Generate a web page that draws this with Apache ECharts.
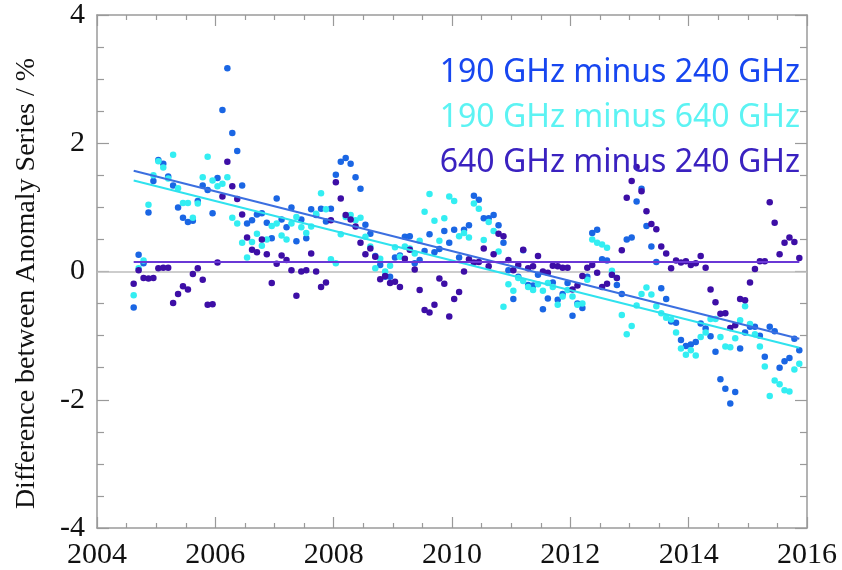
<!DOCTYPE html>
<html lang="en">

<head>
    <meta charset="UTF-8">
    <title>Difference between Anomaly Series</title>
    <script src="https://cdn.jsdelivr.net/npm/echarts@6/dist/echarts.min.js"></script>
    <style>
        html, body { margin: 0; padding: 0; background: #fff; }
    </style>
</head>

<body>
    <div id="chart1" style="width: 842px;height: 570px;"></div>
    <script type="text/javascript">
        // monthly samples, first one is about Aug 2004
        var startYear = 2004.62;

        var names = ['190 GHz minus 240 GHz', '190 GHz minus 640 GHz', '640 GHz minus 240 GHz'];

        var blueVals = [
            -0.56, 0.26, 0.13, 0.92, 1.41, 1.74, 1.68, 1.48, 1.34, 1.0, 0.84, 0.77, 0.79, 1.1, 1.34, 1.27,
            0.91, 1.46, 2.52, 3.17, 2.16, 1.88, 1.34, 0.75, 0.8, 0.89, 0.91, 0.76, 0.52, 1.14, 0.81, 0.69,
            1.0, 0.47, 0.81, 0.52, 0.97, 0.88, 0.98, 0.78, 0.98, 1.51, 1.71, 1.77, 1.68, 1.47, 1.29, 0.73,
            0.59, 0.24, 0.1, -0.08, -0.08, 0.22, 0.25, 0.54, 0.55, 0.13, 0.18, 0.32, 0.58, 0.3, 0.35, 0.63,
            0.45, 0.65, 0.22, 0.65, 0.72, 1.18, 1.12, 0.83, 0.83, 0.88, 0.72, 0.45, 0.02, -0.43, -0.08, 0.33,
            -0.21, -0.22, -0.05, -0.59, -0.42, -0.17, -0.44, -0.35, -0.18, -0.69, -0.5, -0.57, -0.08, 0.6, 0.65, 0.19,
            0.17, -0.05, -0.21, -0.35, 0.5, 0.53, 1.09, 1.29, 0.71, 0.39, 0.15, -0.26, -0.43, -0.78, -0.8, -1.07,
            -1.16, -1.14, -1.1, -0.81, -0.89, -1.01, -1.25, -1.68, -1.83, -2.06, -1.88, -1.2, -0.95, -0.86, -0.86, -1.0,
            -1.33, -0.86, -0.93, -1.5, -1.4, -1.35, -1.05, -1.23
        ];

        var cyanVals = [
            -0.37, 0.05, 0.17, 1.04, 1.5, 1.72, 1.62, 1.45, 1.82, 1.3, 1.07, 1.07, 0.84, 1.06, 1.47, 1.79,
            1.42, 1.33, 1.37, 1.47, 0.84, 0.75, 0.45, 0.22, 0.46, 0.59, 0.4, 0.5, 0.71, 0.75, 0.56, 0.5,
            0.75, 0.85, 0.69, 0.6, 0.7, 0.9, 1.22, 0.97, 0.19, 0.13, 0.58, 0.85, 0.88, 0.8, 0.84, 0.54,
            0.39, 0.05, 0.2, 0.0, 0.09, 0.38, 0.23, 0.39, 0.36, 0.28, 0.48, 0.93, 1.21, 0.79, 0.48, 0.83,
            1.17, 1.1, 0.55, 0.6, 0.53, 1.06, 0.98, 0.49, 0.77, 0.63, 0.31, -0.55, -0.2, -0.3, -0.1, -0.15,
            -0.24, -0.29, -0.2, -0.3, -0.18, -0.24, -0.52, -0.39, -0.29, -0.39, -0.52, -0.5, -0.13, 0.5, 0.45, 0.42,
            0.37, 0.01, -0.1, -0.68, -0.98, -0.85, -0.53, -0.35, -0.25, -0.36, -0.54, -0.65, -0.72, -0.75, -0.95, -1.2,
            -1.3, -1.23, -1.31, -1.02, -0.95, -0.74, -0.74, -1.02, -1.17, -1.18, -1.04, -0.76, -0.54, -0.82, -0.98, -1.17,
            -1.48, -1.94, -1.7, -1.76, -1.85, -1.87, -1.53, -1.44
        ];

        var purpleVals = [
            -0.19, 0.02, -0.1, -0.11, -0.1, 0.05, 0.06, 0.06, -0.49, -0.35, -0.23, -0.28, -0.04, 0.05, -0.13, -0.52,
            -0.51, 0.14, 1.17, 1.71, 1.33, 1.13, 0.89, 0.53, 0.34, 0.3, 0.5, 0.27, -0.18, 0.12, 0.25, 0.18,
            0.02, -0.38, 0.0, 0.02, 0.28, 0.0, -0.24, -0.17, 0.8, 1.39, 1.14, 0.88, 0.81, 0.7, 0.45, 0.27,
            0.36, 0.23, -0.12, -0.07, -0.18, -0.16, -0.24, 0.2, 0.34, 0.03, -0.29, -0.6, -0.64, -0.52, -0.11, -0.19,
            -0.7, -0.43, -0.32, 0.0, 0.19, 0.14, 0.15, 0.36, 0.08, 0.27, 0.59, 0.55, 0.18, 0.02, 0.1, 0.34,
            0.05, 0.08, 0.24, 0.0, -0.02, 0.09, 0.08, 0.06, 0.06, -0.28, -0.22, -0.07, 0.06, 0.1, -0.02, -0.24,
            -0.19, -0.05, -0.1, 0.33, 1.15, 1.41, 1.63, 1.25, 0.94, 0.74, 0.66, 0.39, 0.28, 0.05, 0.17, 0.14,
            0.16, 0.1, 0.13, 0.24, 0.06, -0.28, -0.48, -0.66, -0.65, -0.88, -0.84, -0.43, -0.45, -0.17, 0.04, 0.16,
            0.16, 1.08, 0.76, 0.27, 0.45, 0.53, 0.46, 0.21
        ];

        // fitted trend lines, [start, end] as [year, value]
        var blueTrend = [[2004.62, 1.57], [2015.87, -1.05]];
        var cyanTrend = [[2004.62, 1.42], [2015.87, -1.19]];
        var purpleTrend = [[2004.62, 0.15], [2015.87, 0.15]];

        var dotColors = ['#1a66e4', '#33eef2', '#3d0ea6'];
        var lineColors = ['#3b6fe0', '#2fe2ee', '#6a38d6'];
        var textColors = ['#1746f0', '#5cf3f3', '#3a22c0'];

        function toPoints(vals) {
            return vals.map(function (v, i) {
                return [startYear + i / 12, v];
            });
        }

        var chart1 = echarts.init(document.getElementById("chart1"));

        var serif = 'Liberation Serif';
        var axisGray = '#9a9a9a';

        function xAx(pos, showLabel) {
            return {
                type: 'value', position: pos, min: 2004, max: 2016, interval: 2,
                axisLine: { show: true, onZero: false, lineStyle: { color: axisGray, width: 1.5 } },
                axisTick: { show: true, inside: true, length: 11, lineStyle: { color: axisGray, width: 1.2 } },
                minorTick: { show: true, splitNumber: 4, length: 5, lineStyle: { color: axisGray, width: 1.2 } },
                splitLine: { show: false },
                axisLabel: {
                    show: showLabel, margin: 12, color: '#111', fontFamily: serif, fontSize: 30,
                    formatter: function (v) { return String(v); }
                }
            };
        }

        function yAx(pos, showLabel) {
            return {
                type: 'value', position: pos, min: -4, max: 4, interval: 2,
                axisLine: { show: true, onZero: false, lineStyle: { color: axisGray, width: 1.5 } },
                axisTick: { show: true, inside: true, length: 12, lineStyle: { color: axisGray, width: 1.2 } },
                minorTick: { show: true, splitNumber: 4, length: 7, lineStyle: { color: axisGray, width: 1.2 } },
                splitLine: { show: false },
                axisLabel: { show: showLabel, margin: 12, color: '#111', fontFamily: serif, fontSize: 30 }
            };
        }

        var yLeft = yAx('left', true);
        yLeft.name = 'Difference between Anomaly Series / %';
        yLeft.nameLocation = 'middle';
        yLeft.nameGap = 56;
        // padding on the (rotated) right side pushes the title down a little
        yLeft.nameTextStyle = { color: '#111', fontFamily: serif, fontSize: 28, padding: [0, 24, 0, 0] };

        function scatter(i, vals) {
            return {
                name: names[i],
                type: 'scatter',
                symbolSize: 6.5,
                itemStyle: { color: dotColors[i], opacity: 1 },
                data: toPoints(vals),
                z: 2
            };
        }

        function trend(i, pts) {
            return {
                name: names[i] + ' trend',
                type: 'line',
                data: pts,
                symbol: 'none',
                lineStyle: { color: lineColors[i], width: 2 },
                silent: true,
                z: 3
            };
        }

        var zeroSeries = scatter(2, purpleVals);
        zeroSeries.markLine = {
            silent: true,
            symbol: 'none',
            label: { show: false },
            lineStyle: { color: '#bdbdbd', width: 1.5, type: 'solid' },
            data: [{ yAxis: 0 }],
            z: 1
        };

        var option = {
            animation: false,
            backgroundColor: '#fff',
            grid: { left: 97, right: 35, top: 14, bottom: 41 },
            legend: {
                orient: 'vertical',
                right: 32,
                top: 52,
                align: 'right',
                icon: 'none',
                itemWidth: 0,
                itemHeight: 0,
                itemGap: 13,
                selectedMode: false,
                textStyle: { fontFamily: 'Noto Sans', fontSize: 32 },
                data: names.map(function (n, i) {
                    return { name: n, textStyle: { color: textColors[i] } };
                })
            },
            xAxis: [xAx('bottom', true), xAx('top', false)],
            yAxis: [yLeft, yAx('right', false)],
            series: [
                scatter(0, blueVals),
                scatter(1, cyanVals),
                zeroSeries,
                trend(0, blueTrend),
                trend(1, cyanTrend),
                trend(2, purpleTrend)
            ]
        };

        chart1.setOption(option);
    </script>
</body>

</html>
